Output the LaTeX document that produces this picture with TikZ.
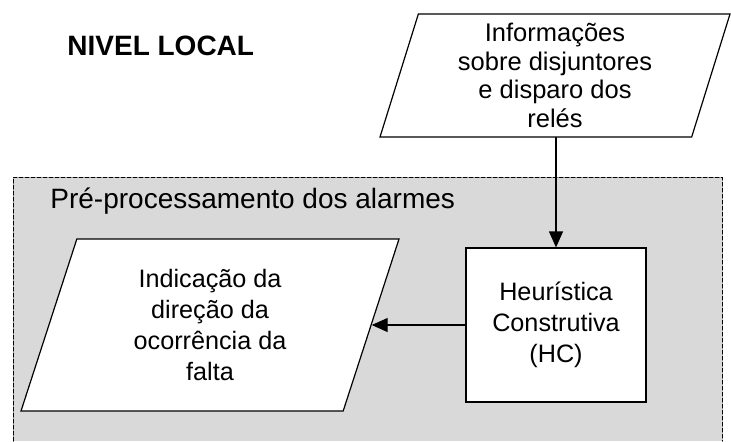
\documentclass[tikz,border=0pt]{standalone}
\usepackage{fontspec}
\setmainfont{Liberation Sans}
\usetikzlibrary{shapes.geometric,arrows.meta}

\begin{document}
\begin{tikzpicture}
			[x=0.5pt,y=-0.5pt,line cap=round,
			%Styles
			data node/.style={trapezium,trapezium stretches body,draw,fill=white,align=center,inner sep=0pt,line width=0.6pt},
			process node/.style={rectangle,draw,fill=white,align=center,minimum width=90pt,minimum height=77pt,line width=0.6pt},
			box text/.style={font=\fontsize{12.6}{15.5}\selectfont},
			information arrow/.style={-{Triangle[length=8pt,width=7pt]},line width=0.6pt},
			stage area/.style={fill=areagray},
			stage border/.style={dashed,dash pattern=on 2pt off 1pt,line width=0.5pt}
			]
			
			%Colors
			\colorlet{areagray}{gray!30}	%pre-processing area
			
			\useasboundingbox (0,0) rectangle (731,441);
			
			%The area
			\fill[stage area] (13,177) rectangle (722,441);
			\draw[stage border] (13,441) -- (13,177) -- (722,177) -- (722,441);
			
			%The graphic
			\node[anchor=west,inner sep=0pt,font=\fontsize{14}{16}\selectfont\bfseries] (level) at (67,46) {NIVEL LOCAL};
			\node[anchor=base west,inner sep=0pt,font=\fontsize{14}{16}\selectfont] (stage) at (50,208) {Pré-processamento dos alarmes};
			
			\node[data node,trapezium left angle=69.9,trapezium right angle=110.1,minimum width=175pt,minimum height=61.5pt,font=\fontsize{12.75}{14.35}\selectfont] (info) at (555,75.5) {Informações\\sobre disjuntores\\e disparo dos\\relés};
			\node[process node,box text] (hc) at (556,325) {Heurística\\Construtiva\\(HC)};
			\node[data node,box text,trapezium left angle=63.4,trapezium right angle=116.6,minimum width=189pt,minimum height=86pt] (fault) at (210,325) {Indicação da\\direção da\\ocorrência da\\falta};
			
			\draw[information arrow] (info.south -| hc.north) -- (hc.north);
			\draw[information arrow] (hc.west) -- (hc.west -| fault.right side);
		\end{tikzpicture}
\end{document}
